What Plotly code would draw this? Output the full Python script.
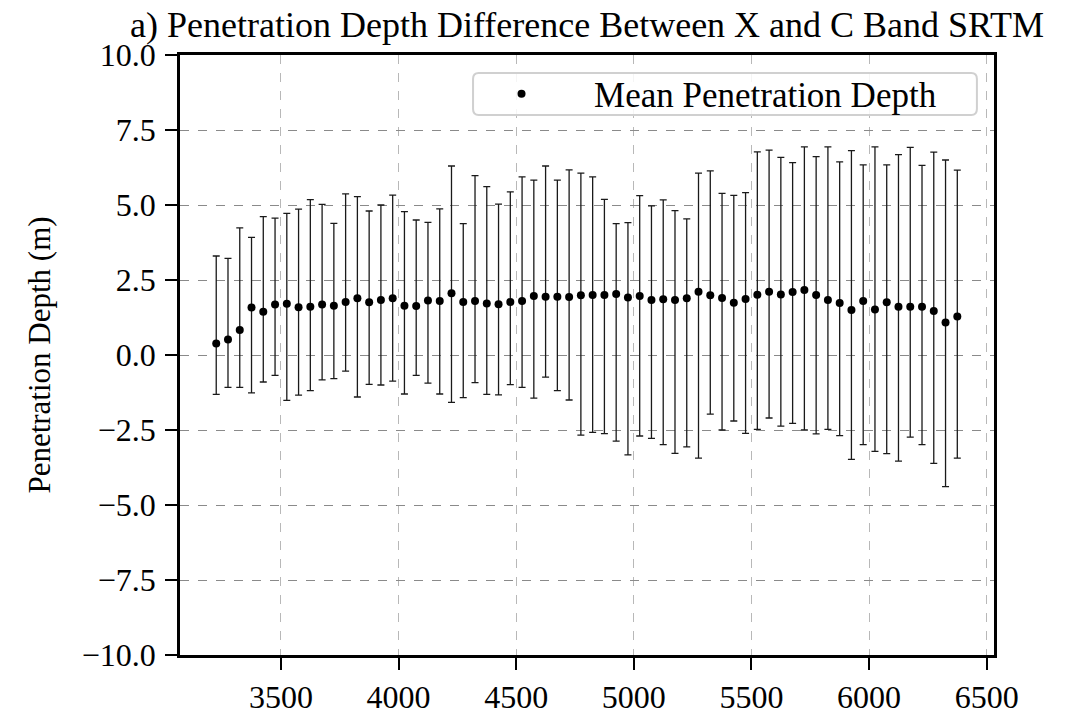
import plotly.graph_objects as go

# Elevation / x positions (m)
x_vals = [3225, 3275, 3325, 3375, 3425, 3475, 3525, 3575, 3625, 3675,
          3725, 3775, 3825, 3875, 3925, 3975, 4025, 4075, 4125, 4175,
          4225, 4275, 4325, 4375, 4425, 4475, 4525, 4575, 4625, 4675,
          4725, 4775, 4825, 4875, 4925, 4975, 5025, 5075, 5125, 5175,
          5225, 5275, 5325, 5375, 5425, 5475, 5525, 5575, 5625, 5675,
          5725, 5775, 5825, 5875, 5925, 5975, 6025, 6075, 6125, 6175,
          6225, 6275, 6325, 6375]

mean_depth = [0.38, 0.52, 0.83, 1.58, 1.44, 1.68, 1.71, 1.59, 1.61, 1.68,
              1.64, 1.77, 1.89, 1.76, 1.83, 1.89, 1.64, 1.63, 1.82, 1.80,
              2.06, 1.77, 1.80, 1.72, 1.69, 1.77, 1.80, 1.97, 1.94, 1.94,
              1.93, 1.99, 2.00, 2.00, 2.03, 1.92, 1.97, 1.83, 1.86, 1.83,
              1.89, 2.11, 1.99, 1.90, 1.74, 1.87, 2.01, 2.11, 2.02, 2.10,
              2.17, 2.00, 1.83, 1.73, 1.50, 1.80, 1.52, 1.76, 1.61, 1.61,
              1.61, 1.47, 1.08, 1.28]

upper_depth = [3.30, 3.22, 4.24, 3.92, 4.61, 4.56, 4.72, 4.86, 5.18, 5.02,
               4.39, 5.37, 5.28, 4.80, 5.00, 5.33, 4.78, 4.50, 4.42, 4.87,
               6.30, 4.38, 5.98, 5.61, 5.03, 5.44, 5.94, 5.83, 6.30, 5.83,
               6.17, 6.06, 5.94, 5.19, 4.38, 4.41, 5.31, 4.97, 5.17, 4.81,
               4.54, 6.06, 6.14, 5.39, 5.32, 5.41, 6.77, 6.83, 6.59, 6.41,
               6.94, 6.61, 6.94, 6.44, 6.81, 6.34, 6.94, 6.34, 6.68, 6.92,
               6.32, 6.76, 6.50, 6.16]

lower_depth = [-1.31, -1.08, -1.08, -1.26, -0.90, -0.68, -1.51, -1.34, -1.19, -0.83,
               -0.79, -0.54, -1.40, -0.98, -1.00, -0.87, -1.30, -0.68, -0.94, -1.30,
               -1.58, -1.42, -0.92, -1.31, -1.33, -0.99, -1.08, -1.44, -0.74, -1.19,
               -1.50, -2.67, -2.58, -2.62, -2.87, -3.33, -2.70, -2.78, -2.99, -3.28,
               -3.06, -3.44, -1.97, -2.50, -2.20, -2.61, -2.48, -2.10, -2.37, -2.28,
               -2.50, -2.63, -2.48, -2.69, -3.48, -2.99, -3.21, -3.29, -3.54, -2.74,
               -2.99, -3.61, -4.39, -3.44]

x_ticks = [3500, 4000, 4500, 5000, 5500, 6000, 6500]
y_ticks = [-10.0, -7.5, -5.0, -2.5, 0.0, 2.5, 5.0, 7.5, 10.0]
y_tick_text = ["\u221210.0", "\u22127.5", "\u22125.0", "\u22122.5", "0.0", "2.5", "5.0", "7.5", "10.0"]

err_plus = [u - m for u, m in zip(upper_depth, mean_depth)]
err_minus = [m - l for m, l in zip(mean_depth, lower_depth)]

FONT = "Liberation Serif"

fig = go.Figure()
fig.add_trace(go.Scatter(
    x=x_vals, y=mean_depth, mode="markers",
    name="\u00a0" * 6 + "Mean Penetration Depth",
    marker=dict(color="black", size=8),
    error_y=dict(type="data", symmetric=False, array=err_plus, arrayminus=err_minus,
                 color="#1a1a1a", thickness=1.3, width=3.5),
))

# legend frame (rounded rectangle) like matplotlib
x0, x1, y0, y1 = 0.360, 0.979, 0.900, 0.970
rx, ry = 0.007, 0.010
path = (f"M {x0+rx},{y0} L {x1-rx},{y0} Q {x1},{y0} {x1},{y0+ry} "
        f"L {x1},{y1-ry} Q {x1},{y1} {x1-rx},{y1} L {x0+rx},{y1} "
        f"Q {x0},{y1} {x0},{y1-ry} L {x0},{y0+ry} Q {x0},{y0} {x0+rx},{y0} Z")
fig.add_shape(type="path", path=path, xref="paper", yref="paper",
              line=dict(color="#d0d0d0", width=2), fillcolor="rgba(255,255,255,0.85)",
              layer="above")

fig.update_layout(
    width=1071, height=714,
    margin=dict(l=180, r=77, t=55, b=59, autoexpand=False),
    paper_bgcolor="white", plot_bgcolor="white",
    font=dict(family=FONT, size=30, color="black"),
    title=dict(text="a) Penetration Depth Difference Between X and C Band SRTM",
               x=0.5, xref="paper", xanchor="center",
               y=1 - 24 / 714, yref="container", yanchor="middle",
               font=dict(family=FONT, size=36, color="black")),
    showlegend=True,
    legend=dict(x=0.395, y=0.935, xanchor="left", yanchor="middle",
                xref="paper", yref="paper",
                bgcolor="rgba(0,0,0,0)", borderwidth=0,
                itemwidth=30, font=dict(family=FONT, size=35, color="black")),
    xaxis=dict(range=[3071, 6531], tickvals=x_ticks, automargin=False,
               showline=True, linecolor="black", linewidth=2.5, mirror=True,
               ticks="outside", ticklen=12, tickwidth=2, tickcolor="black",
               showgrid=True, gridcolor="#b8b8b8", griddash="dash", gridwidth=1,
               zeroline=False, ticklabelstandoff=0,
               tickfont=dict(family=FONT, size=32)),
    yaxis=dict(range=[-10, 10], tickvals=y_ticks, ticktext=y_tick_text, automargin=False,
               showline=True, linecolor="black", linewidth=2.5, mirror=True,
               ticks="outside", ticklen=12, tickwidth=2, tickcolor="black",
               showgrid=True, gridcolor="#8a8a8a", griddash="dash", gridwidth=1,
               zeroline=False, ticklabelstandoff=3,
               tickfont=dict(family=FONT, size=32),
               title=dict(text="Penetration Depth (m)", standoff=22,
                          font=dict(family=FONT, size=31))),
)

fig.write_html("out.html")
